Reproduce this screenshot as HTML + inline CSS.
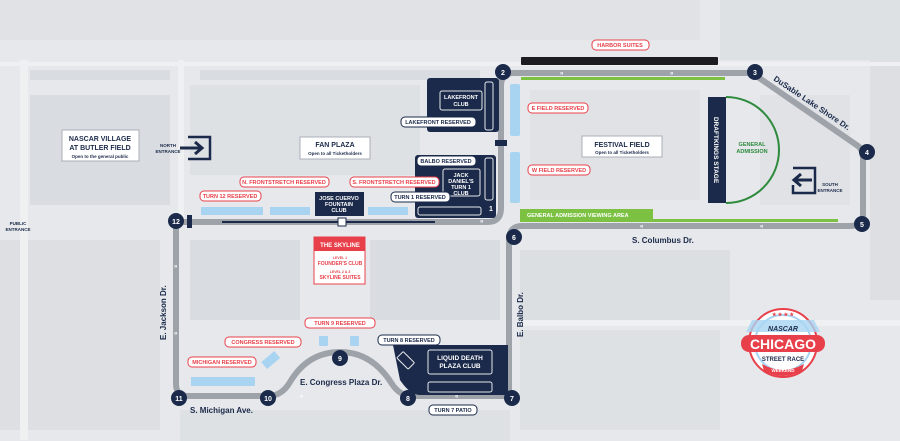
<!DOCTYPE html>
<html><head><meta charset="utf-8"><style>
html,body{margin:0;padding:0;background:#e8eaed;}
svg{display:block}
text{font-family:"Liberation Sans",sans-serif;font-weight:bold}
</style></head><body>
<svg width="900" height="441" viewBox="0 0 900 441" xmlns="http://www.w3.org/2000/svg">
<rect width="900" height="441" fill="#e6e8eb"/>
<!-- faint background texture -->
<g fill="#d9dce0">
<rect x="30" y="70" width="140" height="10"/><rect x="200" y="70" width="280" height="10"/>
<rect x="30" y="95" width="140" height="110"/><rect x="190" y="85" width="230" height="90" opacity=".6"/>
<rect x="0" y="240" width="160" height="190" opacity=".7"/><rect x="190" y="240" width="110" height="80"/>
<rect x="370" y="240" width="130" height="80"/><rect x="520" y="250" width="210" height="70" opacity=".8"/>
<rect x="530" y="90" width="170" height="110" opacity=".5"/><rect x="720" y="0" width="180" height="60" opacity=".6"/>
<rect x="870" y="60" width="30" height="240" opacity=".7"/><rect x="520" y="330" width="200" height="100" opacity=".6"/>
<rect x="180" y="410" width="330" height="31" opacity=".6"/><rect x="0" y="0" width="700" height="40" opacity=".5"/>
<rect x="760" y="95" width="90" height="110" opacity=".5"/>
</g>
<g fill="#eef0f2"><rect x="0" y="62" width="900" height="4"/><rect x="20" y="60" width="8" height="380"/><rect x="178" y="60" width="6" height="160"/><rect x="520" y="320" width="380" height="6"/></g>

<!-- track -->
<g fill="none" stroke="#9ea3aa" stroke-width="6" stroke-linejoin="round">
<path d="M176 222 L488 222 Q501 222 501 208 L501 86 Q501 73 514 73 L752 73 L858 146 Q863 150 863 158 L863 214 Q863 226 850 226 L522 226 Q509 226 509 240 L509 396 L412 396 Q400 396 392 384 Q372 352 340 352 Q308 352 290 382 Q282 396 268 396 L188 396 Q176 396 176 384 Z"/>
</g>
<line x1="222" y1="222" x2="435" y2="222" stroke="#1b2a4a" stroke-width="2"/>
<rect x="338" y="218" width="8" height="8" fill="#fff" stroke="#1b2a4a"/>
<rect x="187" y="215" width="5" height="13" fill="#1b2a4a"/>
<rect x="495" y="140" width="12" height="6" fill="#1b2a4a"/>
<g font-size="6" fill="#fff"><text x="560" y="75">»</text><text x="670" y="75">»</text><text x="480" y="223">»</text><text x="640" y="228">«</text><text x="760" y="228">«</text><text x="300" y="398">«</text><text x="455" y="398">«</text><text x="174" y="268">»</text><text x="174" y="335">»</text></g>

<!-- green strips -->
<rect x="521" y="77" width="204" height="3" fill="#7cc142"/>
<rect x="520" y="209" width="133" height="10" fill="#7cc142"/>
<rect x="520" y="219" width="318" height="3" fill="#7cc142"/>
<text x="527" y="217" font-size="5.5" fill="#fff">GENERAL ADMISSION VIEWING AREA</text>
<rect x="521" y="57" width="197" height="8" rx="1" fill="#1d1d1f"/>

<!-- blue bars -->
<g fill="#a8d4f2">
<rect x="510" y="84" width="10" height="52" rx="2"/><rect x="510" y="152" width="10" height="51" rx="2"/>
<rect x="201" y="207" width="62" height="8"/><rect x="270" y="207" width="40" height="8"/><rect x="368" y="207" width="40" height="8"/>
<rect x="191" y="377" width="64" height="9"/><rect x="319" y="336" width="9" height="10" rx="1"/><rect x="350" y="336" width="9" height="10" rx="1"/>
<rect x="262" y="356" width="17" height="9" transform="rotate(-40 270 360)"/>
</g>

<!-- navy areas -->
<g fill="#1b2a4a">
<rect x="427" y="78" width="72" height="54" rx="3"/><rect x="415" y="155" width="81" height="63" rx="3"/>
<rect x="315" y="192" width="49" height="24"/>
<rect x="708" y="97" width="18" height="106"/>
<path d="M393 345 L508 345 L508 395 L420 395 Q410 395 400 380 Z"/>
</g>
<g fill="none" stroke="#e6e8eb" stroke-width="1">
<rect x="440" y="91" width="42" height="19" rx="2"/><rect x="485" y="82" width="8" height="48" rx="2"/>
<rect x="443" y="169" width="37" height="27" rx="2"/><rect x="485" y="158" width="8" height="42" rx="2"/><rect x="418" y="207" width="63" height="8" rx="2"/>
<rect x="428" y="350" width="64" height="24" rx="2"/><rect x="428" y="382" width="64" height="10" rx="2"/>
<rect x="398" y="356" width="16" height="9" rx="1" transform="rotate(45 406 360)"/>
</g>
<g fill="#fff" font-size="5.5" text-anchor="middle">
<text x="461" y="99">LAKEFRONT</text><text x="461" y="106">CLUB</text>
<text x="461" y="177">JACK</text><text x="461" y="183">DANIEL'S</text><text x="461" y="189">TURN 1</text><text x="461" y="195">CLUB</text>
<text x="339" y="200">JOSE CUERVO</text><text x="339" y="206">FOUNTAIN</text><text x="339" y="212">CLUB</text>
<text x="460" y="360" font-size="6.5">LIQUID DEATH</text><text x="460" y="368" font-size="6.5">PLAZA CLUB</text>
<text x="491" y="211" font-size="7">1</text>
<text transform="translate(714 150) rotate(90)" font-size="6.5">DRAFTKINGS STAGE</text>
</g>
<path d="M726 97 A53 53 0 0 1 726 203" fill="none" stroke="#2e8b3e" stroke-width="2"/>
<text x="752" y="146" font-size="5.5" fill="#2e8b3e" text-anchor="middle">GENERAL</text>
<text x="752" y="153" font-size="5.5" fill="#2e8b3e" text-anchor="middle">ADMISSION</text>

<!-- white boxes -->
<g fill="#fff" stroke="#aab0b8" stroke-width="1">
<rect x="62" y="130" width="77" height="31"/><rect x="300" y="137" width="70" height="22"/><rect x="582" y="136" width="80" height="21"/>
</g>
<g text-anchor="middle" fill="#1b2a4a">
<text x="100" y="141" font-size="7">NASCAR VILLAGE</text><text x="100" y="150" font-size="7">AT BUTLER FIELD</text><text x="100" y="158" font-size="4.5" font-weight="normal">Open to the general public</text>
<text x="335" y="147" font-size="7">FAN PLAZA</text><text x="335" y="155" font-size="4.5" font-weight="normal">Open to all Ticketholders</text>
<text x="622" y="147" font-size="7">FESTIVAL FIELD</text><text x="622" y="154" font-size="4.5" font-weight="normal">Open to all Ticketholders</text>
<text x="168" y="147" font-size="4.5">NORTH</text><text x="168" y="153" font-size="4.5">ENTRANCE</text>
<text x="830" y="186" font-size="4.5">SOUTH</text><text x="830" y="192" font-size="4.5">ENTRANCE</text>
<text x="18" y="225" font-size="4.5">PUBLIC</text><text x="18" y="231" font-size="4.5">ENTRANCE</text>
</g>
<g fill="none" stroke="#1b2a4a" stroke-width="2.5">
<path d="M188 137 L210 137 L210 159 L188 159"/><path d="M793 168 L815 168 L815 193 L793 193 L793 185"/>
</g>
<path d="M180 148 L200 148 M195 142 L202 148 L195 154" stroke="#1b2a4a" stroke-width="3" fill="none"/>
<path d="M812 180 L795 180 M801 174 L794 180 L801 186" stroke="#1b2a4a" stroke-width="3" fill="none"/>

<!-- pill labels red -->
<g fill="#fff" stroke="#e8404a" stroke-width="1">
<rect x="592" y="40" width="57" height="10" rx="4"/><rect x="528" y="103" width="60" height="10" rx="4"/><rect x="528" y="165" width="62" height="10" rx="4"/>
<rect x="240" y="177" width="89" height="10" rx="4"/><rect x="350" y="177" width="89" height="10" rx="4"/><rect x="200" y="191" width="61" height="10" rx="4"/>
<rect x="305" y="318" width="70" height="10" rx="4"/><rect x="225" y="337" width="76" height="10" rx="4"/><rect x="188" y="357" width="68" height="10" rx="4"/>
</g>
<g fill="#e8404a" font-size="5.5" text-anchor="middle">
<text x="620" y="47">HARBOR SUITES</text><text x="558" y="110">E FIELD RESERVED</text><text x="559" y="172">W FIELD RESERVED</text>
<text x="284" y="184">N. FRONTSTRETCH RESERVED</text><text x="394" y="184">S. FRONTSTRETCH RESERVED</text><text x="230" y="198">TURN 12 RESERVED</text>
<text x="340" y="325">TURN 9 RESERVED</text><text x="263" y="344">CONGRESS RESERVED</text><text x="222" y="364">MICHIGAN RESERVED</text>
</g>
<!-- pill labels navy -->
<g fill="#fff" stroke="#1b2a4a" stroke-width="1">
<rect x="401" y="117" width="75" height="10" rx="4"/><rect x="417" y="156" width="59" height="10" rx="4"/><rect x="391" y="192" width="59" height="10" rx="4"/>
<rect x="378" y="335" width="62" height="10" rx="4"/><rect x="429" y="405" width="48" height="10" rx="4"/>
</g>
<g fill="#1b2a4a" font-size="5.5" text-anchor="middle">
<text x="438" y="124">LAKEFRONT RESERVED</text><text x="446" y="163">BALBO RESERVED</text><text x="420" y="199">TURN 1 RESERVED</text>
<text x="409" y="342">TURN 8 RESERVED</text><text x="453" y="412">TURN 7 PATIO</text>
</g>

<!-- skyline -->
<rect x="314" y="237" width="51" height="47" fill="#fff" stroke="#e8404a"/>
<rect x="314" y="237" width="51" height="14" fill="#e8404a"/>
<g text-anchor="middle" font-size="5" fill="#e8404a">
<text x="340" y="247" fill="#fff" font-size="6">THE SKYLINE</text>
<text x="340" y="259" font-size="3.5">LEVEL 1</text><text x="340" y="265">FOUNDER'S CLUB</text>
<text x="340" y="273" font-size="3.5">LEVEL 2 &amp; 3</text><text x="340" y="279">SKYLINE SUITES</text>
</g>

<!-- road names -->
<g fill="#1b2a4a" font-size="8">
<text x="632" y="243">S. Columbus Dr.</text>
<text x="300" y="385">E. Congress Plaza Dr.</text>
<text x="190" y="413">S. Michigan Ave.</text>
<text transform="translate(166 340) rotate(-90)">E. Jackson Dr.</text>
<text transform="translate(523 337) rotate(-90)">E. Balbo Dr.</text>
<text transform="translate(773 80) rotate(34)">DuSable Lake Shore Dr.</text>
</g>

<!-- turn circles -->
<g fill="#1b2a4a"><circle cx="503" cy="72" r="8"/><circle cx="755" cy="72" r="8"/><circle cx="867" cy="152" r="8"/><circle cx="862" cy="224" r="8"/><circle cx="514" cy="237" r="8"/><circle cx="512" cy="398" r="8"/><circle cx="408" cy="398" r="8"/><circle cx="340" cy="358" r="8"/><circle cx="268" cy="398" r="8"/><circle cx="179" cy="398" r="8"/><circle cx="176" cy="221" r="8"/></g>
<g fill="#fff" font-size="7" text-anchor="middle">
<text x="503" y="75">2</text><text x="755" y="75">3</text><text x="867" y="155">4</text><text x="862" y="227">5</text><text x="514" y="240">6</text><text x="512" y="401">7</text><text x="408" y="401">8</text><text x="340" y="361">9</text><text x="268" y="401">10</text><text x="179" y="401">11</text><text x="176" y="224">12</text>
</g>

<!-- logo -->
<g>
<circle cx="783" cy="343" r="34" fill="#fff" stroke="#e8404a" stroke-width="2"/>
<circle cx="783" cy="343" r="28" fill="none" stroke="#a8d4f2" stroke-width="2"/>
<path d="M752 320 L814 320 L820 332 L746 332 Z" fill="#a8d4f2" opacity=".8"/>
<rect x="741" y="335" width="84" height="17" rx="8" fill="#e8404a"/>
<text x="783" y="349" text-anchor="middle" font-size="14" fill="#fff" font-weight="normal">CHICAGO</text>
<text x="783" y="331" text-anchor="middle" font-size="7" fill="#1b2a4a" font-style="italic">NASCAR</text>
<text x="783" y="361" text-anchor="middle" font-size="6" fill="#1b2a4a">STREET RACE</text>
<path d="M762 364 Q783 376 804 364 L802 371 Q783 381 764 371 Z" fill="#e8404a"/>
<text x="783" y="372" text-anchor="middle" font-size="4.5" fill="#fff">WEEKEND</text>
<text x="783" y="316" text-anchor="middle" font-size="5" fill="#e8404a">★ ★ ★ ★</text>
</g>
</svg>
</body></html>
